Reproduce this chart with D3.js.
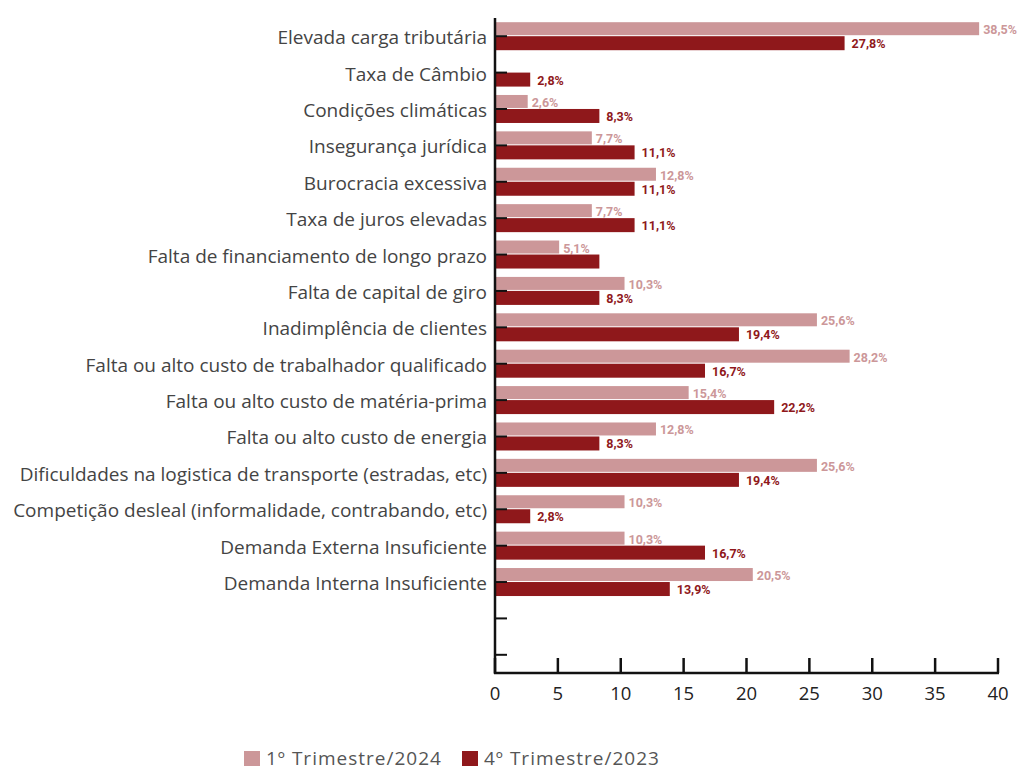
<!DOCTYPE html>
<html>
<head>
<script src="https://cdn.jsdelivr.net/npm/d3@7"></script>
<style>
  body{ margin:0; background:#fff; font-family:"Open Sans", sans-serif; }
</style>
</head>
<body>
<div id="chart"></div>
<script>
  var categories = ["Elevada carga tributária","Taxa de Câmbio","Condições climáticas","Insegurança jurídica",
    "Burocracia excessiva","Taxa de juros elevadas","Falta de financiamento de longo prazo","Falta de capital de giro",
    "Inadimplência de clientes","Falta ou alto custo de trabalhador qualificado","Falta ou alto custo de matéria-prima",
    "Falta ou alto custo de energia","Dificuldades na logistica de transporte (estradas, etc)",
    "Competição desleal (informalidade, contrabando, etc)","Demanda Externa Insuficiente","Demanda Interna Insuficiente","",""]
  var q1_2024 = [38.5,0,2.6,7.7,12.8,7.7,5.1,10.3,25.6,28.2,15.4,12.8,25.6,10.3,10.3,20.5,null,null]
  var q4_2023 = [27.8,2.8,8.3,11.1,11.1,11.1,8.3,8.3,19.4,16.7,22.2,8.3,19.4,2.8,16.7,13.9,null,null]
  // the chart shows no label on this one bar
  var q4NoLabel = ["Falta de financiamento de longo prazo"]
  var xTicks = [0,5,10,15,20,25,30,35,40]
  var seriesNames = ["1º Trimestre/2024","4º Trimestre/2023"]
  var colors = ["#cc9799","#8f181b"]

  var width = 1019, height = 769
  var mLeft = 495, mRight = 998, mTop = 18, mBottom = 673

  var svg = d3.select("#chart").append("svg").attr("width",width).attr("height",height)

  var x = d3.scaleLinear().domain([0,40]).range([mLeft,mRight])
  var y = d3.scaleBand().domain(d3.range(categories.length)).range([mTop,mBottom])
  var barH = 14

  var fmt = function(v){ return v.toFixed(1).replace(".",",")+"%" }
  var valueFont = "'Liberation Sans Narrow','Roboto',sans-serif"

  var rows = svg.append("g").selectAll("g").data(categories).join("g")

  rows.each(function(c,i){
    var g = d3.select(this)
    var cy = y(i)+y.bandwidth()/2
    if(q1_2024[i]!=null && q1_2024[i]>0){
      g.append("rect").attr("x",x(0)).attr("y",cy-barH).attr("width",x(q1_2024[i])-x(0)).attr("height",barH-1).attr("fill",colors[0])
      g.append("text").text(fmt(q1_2024[i])).attr("x",x(q1_2024[i])+4).attr("y",cy-2)
        .attr("font-size",12.5).attr("font-weight","bold").attr("fill",colors[0])
        .attr("font-family",valueFont)
    }
    if(q4_2023[i]!=null){
      g.append("rect").attr("x",x(0)).attr("y",cy).attr("width",x(q4_2023[i])-x(0)).attr("height",barH).attr("fill",colors[1])
      if(q4NoLabel.indexOf(c)<0){
        g.append("text").text(fmt(q4_2023[i])).attr("x",x(q4_2023[i])+7).attr("y",cy+12)
          .attr("font-size",12.5).attr("font-weight","bold").attr("fill",colors[1])
          .attr("font-family",valueFont)
      }
    }
    g.append("text").text(c).attr("x",mLeft-8).attr("y",cy+8)
      .attr("text-anchor","end").attr("font-size",19).attr("fill","#444")
  })

  // y axis
  var yAxis = svg.append("g")
  yAxis.append("line").attr("x1",mLeft).attr("x2",mLeft).attr("y1",mTop).attr("y2",mBottom+1)
    .attr("stroke","#111").attr("stroke-width",2.5)
  yAxis.selectAll(".yt").data(d3.range(categories.length)).join("line")
    .attr("x1",mLeft).attr("x2",mLeft+12)
    .attr("y1",function(i){return y(i)+y.bandwidth()/2}).attr("y2",function(i){return y(i)+y.bandwidth()/2})
    .attr("stroke","#111").attr("stroke-width",2)

  // x axis
  var xAxis = svg.append("g")
  xAxis.append("line").attr("x1",mLeft-1).attr("x2",mRight+1).attr("y1",mBottom).attr("y2",mBottom)
    .attr("stroke","#111").attr("stroke-width",2.5)
  xAxis.selectAll(".xt").data(xTicks).join("line")
    .attr("x1",function(d){return x(d)}).attr("x2",function(d){return x(d)})
    .attr("y1",mBottom).attr("y2",mBottom-15)
    .attr("stroke","#111").attr("stroke-width",2.5)
  xAxis.selectAll(".xl").data(xTicks).join("text")
    .text(function(d){return d})
    .attr("x",function(d){return x(d)}).attr("y",mBottom+27)
    .attr("text-anchor","middle").attr("font-size",18.5).attr("fill","#222")

  // legend
  var legend = svg.append("g").attr("transform","translate(244,750)")
  var lx = [0,218]
  seriesNames.forEach(function(s,i){
    legend.append("rect").attr("x",lx[i]).attr("y",1).attr("width",16).attr("height",15).attr("fill",colors[i])
    legend.append("text").text(s).attr("x",lx[i]+22).attr("y",15)
      .attr("font-size",19).attr("fill","#555").attr("letter-spacing",1)
  })
</script>
</body>
</html>
